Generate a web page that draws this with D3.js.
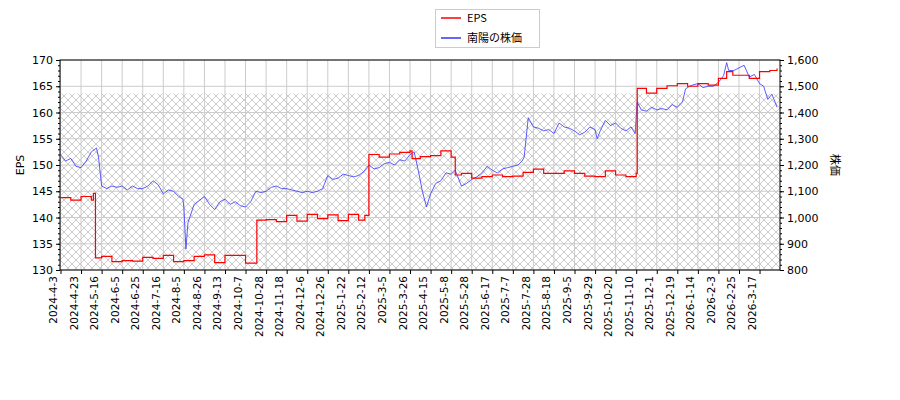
<!DOCTYPE html>
<html><head><meta charset="utf-8">
<script src="https://cdn.jsdelivr.net/npm/d3@7"></script>
<style>body{margin:0;background:#fff}text{font-family:"DejaVu Sans",sans-serif}</style>
</head><body><svg id="c" width="900" height="400"></svg>
<script>
const tickLabels = ["2024-4-3","2024-4-23","2024-5-16","2024-6-5","2024-6-25","2024-7-16","2024-8-5","2024-8-26","2024-9-13","2024-10-7","2024-10-28","2024-11-18","2024-12-6","2024-12-26","2025-1-22","2025-2-12","2025-3-5","2025-3-26","2025-4-15","2025-5-8","2025-5-28","2025-6-17","2025-7-7","2025-7-28","2025-8-18","2025-9-5","2025-9-29","2025-10-20","2025-11-10","2025-12-1","2025-12-19","2026-1-14","2026-2-3","2026-2-25","2026-3-17"];
// positions measured in tick steps
const pricePos = [0,0.25,0.5,0.75,1,1.25,1.5,1.75,1.85,2,2.25,2.5,2.75,3,3.25,3.5,3.75,4,4.25,4.5,4.75,5,5.25,5.5,5.75,5.95,6,6.1,6.2,6.5,6.75,7,7.25,7.5,7.75,8,8.25,8.5,8.75,9,9.25,9.5,9.75,10,10.25,10.5,10.75,11,11.25,11.5,11.75,12,12.25,12.5,12.75,13,13.25,13.5,13.75,14,14.25,14.5,14.75,15,15.25,15.5,15.75,16,16.25,16.5,16.75,17,17.2,17.4,17.6,17.8,18,18.25,18.5,18.75,19,19.2,19.5,19.75,20,20.25,20.5,20.75,21,21.25,21.5,21.75,22,22.25,22.45,22.55,22.75,23,23.25,23.5,23.75,24,24.25,24.5,24.75,25,25.25,25.5,25.75,26,26.1,26.25,26.5,26.75,27,27.25,27.5,27.75,27.95,28.05,28.25,28.5,28.75,29,29.25,29.5,29.75,30,30.25,30.4,30.6,30.75,31,31.25,31.5,31.75,32,32.25,32.4,32.5,32.75,33,33.25,33.5,33.75,34,34.2,34.4,34.6,34.85];
const priceVal = [1240,1215,1225,1195,1190,1215,1250,1265,1230,1120,1110,1120,1115,1120,1105,1120,1110,1110,1120,1140,1125,1090,1105,1100,1080,1070,1040,880,980,1050,1065,1080,1050,1030,1060,1070,1050,1060,1045,1040,1060,1100,1095,1100,1115,1120,1110,1110,1105,1100,1095,1100,1095,1100,1110,1160,1145,1150,1165,1160,1155,1160,1175,1200,1185,1190,1205,1210,1200,1220,1215,1240,1250,1180,1100,1040,1090,1130,1140,1170,1165,1180,1120,1130,1145,1155,1170,1195,1180,1170,1185,1190,1195,1200,1215,1230,1380,1345,1340,1330,1335,1320,1360,1345,1340,1330,1315,1325,1345,1335,1300,1330,1370,1350,1360,1340,1330,1345,1320,1440,1410,1405,1420,1410,1415,1410,1430,1420,1440,1490,1500,1505,1510,1495,1500,1500,1515,1540,1590,1560,1560,1570,1580,1535,1545,1510,1500,1450,1470,1420,1460];
const epsPos = [0,0.5,1,1.5,1.6,1.7,2,2.5,3,3.5,4,4.5,5,5.5,6,6.5,7,7.5,8,8.5,9,9.55,10,10.5,11,11.5,12,12.5,13,13.5,14,14.5,14.8,15,15.5,16,16.5,17,17.1,17.5,18,18.5,19,19.2,19.5,20,20.5,21,21.5,22,22.5,23,23.5,24,24.5,25,25.5,26,26.5,27,27.5,28,28.05,28.5,29,29.5,30,30.5,31,31.5,32,32.4,32.7,33,33.5,34,34.5,34.85];
const epsVal = [143.8,143.3,144,143.3,144.6,132.3,132.6,131.6,131.8,131.7,132.4,132.2,132.8,131.6,131.8,132.6,132.9,131.4,132.8,132.8,131.3,139.5,139.6,139.2,140.4,139.3,140.6,139.8,140.5,139.4,140.6,139.5,140.4,152,151.5,152.1,152.4,152.7,151.2,151.6,151.8,152.7,151.5,148.1,148.4,147.5,147.8,148.1,147.8,147.9,148.6,149.2,148.4,148.4,148.9,148.4,147.9,147.8,148.9,148.1,147.8,148.4,164.6,163.7,164.6,165.1,165.5,165,165.5,165.2,166.5,167.8,167.1,167.1,166.5,167.8,168,168.4];

const svg = d3.select("#c");
const L = 60, R = 780, T = 60, B = 270;
const x = d3.scaleLinear().domain([0, 34.85]).range([L + 0.5, 780 - 0.5 + 0]).clamp(false);
x.domain([0, 34.97]);
const yE = d3.scaleLinear().domain([130, 170]).range([B, T]);
const yP = d3.scaleLinear().domain([800, 1600]).range([B, T]);

const defs = svg.append("defs");
const pat = defs.append("pattern").attr("id", "h").attr("patternUnits", "userSpaceOnUse").attr("width", 8).attr("height", 8);
pat.append("path").attr("d", "M0,0L8,8M8,0L0,8").attr("stroke", "#aaa").attr("stroke-width", 0.6);

svg.append("rect").attr("x", L).attr("y", T).attr("width", R - L).attr("height", B - T).attr("fill", "#fff");
svg.append("rect").attr("x", L).attr("y", yE(163.6)).attr("width", R - L).attr("height", B - yE(163.6)).attr("fill", "url(#h)");

// grid
const g = svg.append("g").attr("stroke", "#ccc").attr("stroke-width", 1);
tickLabels.forEach((d, i) => g.append("line").attr("x1", x(i)).attr("x2", x(i)).attr("y1", T).attr("y2", B));
yE.ticks(8).forEach(v => g.append("line").attr("x1", L).attr("x2", R).attr("y1", yE(v)).attr("y2", yE(v)));

const line = (pos, val, y) => d3.line().x((d, i) => x(pos[i])).y(d => y(d))(val);
svg.append("path").attr("d", line(pricePos, priceVal, yP)).attr("fill", "none").attr("stroke", "#3333ff").attr("stroke-width", 0.8);
svg.append("path").attr("d", d3.line().curve(d3.curveStepAfter).x((d, i) => x(epsPos[i])).y(d => yE(d))(epsVal)).attr("fill", "none").attr("stroke", "#ff0000").attr("stroke-width", 1.2);

svg.append("rect").attr("x", L).attr("y", T).attr("width", R - L).attr("height", B - T).attr("fill", "none").attr("stroke", "#000");

const ax = svg.append("g").attr("transform", `translate(0,${B})`)
  .call(d3.axisBottom(x).tickValues(d3.range(tickLabels.length)).tickFormat(i => tickLabels[i]).tickSize(4));
ax.select(".domain").remove();
ax.selectAll("text").attr("transform", "rotate(-90)").attr("x", -6).attr("y", -4).attr("dy", 0).style("text-anchor", "end").attr("font-size", 10.5);

const al = svg.append("g").attr("transform", `translate(${L},0)`).call(d3.axisLeft(yE).ticks(8).tickSize(4));
al.select(".domain").remove();
al.selectAll("text").attr("font-size", 11);
svg.append("g").attr("transform", `translate(${L},0)`).call(d3.axisLeft(yE).ticks(40).tickSize(2).tickFormat("")).select(".domain").remove();
const ar = svg.append("g").attr("transform", `translate(${R},0)`).call(d3.axisRight(yP).ticks(8).tickSize(4));
ar.select(".domain").remove();
ar.selectAll("text").attr("font-size", 11);
svg.append("g").attr("transform", `translate(${R},0)`).call(d3.axisRight(yP).ticks(40).tickSize(2).tickFormat("")).select(".domain").remove();

svg.append("text").attr("transform", "translate(24,165) rotate(-90)").attr("text-anchor", "middle").attr("font-size", 11).text("EPS");
svg.append("text").attr("transform", "translate(831,165) rotate(90)").attr("text-anchor", "middle").attr("font-size", 11).style("font-family", "Noto Sans CJK JP").text("株価");

const lg = svg.append("g");
lg.append("rect").attr("x", 435.5).attr("y", 9.5).attr("width", 104).attr("height", 38).attr("fill", "#fff").attr("stroke", "#ccc");
const items = [["EPS", "#ff0000"], ["南陽の株価", "#3333ff"]];
items.forEach(([t, c], i) => {
  lg.append("line").attr("x1", 441).attr("x2", 461).attr("y1", 18 + i * 20).attr("y2", 18 + i * 20).attr("stroke", c).attr("stroke-width", 1.5);
  lg.append("text").attr("x", 467).attr("y", 22 + i * 20).attr("font-size", 11).style("font-family", "Noto Sans CJK JP, DejaVu Sans").text(t);
});
</script></body></html>
